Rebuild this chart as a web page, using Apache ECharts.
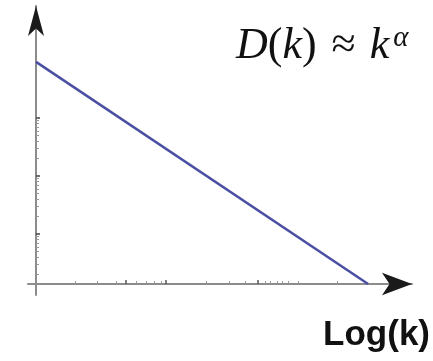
<!DOCTYPE html>
<html>
<head>
<meta charset="utf-8">
<script src="https://cdn.jsdelivr.net/npm/echarts@6/dist/echarts.min.js"></script>
<style>
  html, body { margin: 0; padding: 0; background: #ffffff; }
  #chart { width: 433px; height: 361px; }
</style>
</head>
<body>
<div id="chart"></div>
<script>
// Power law drawn on log-log axes: log10(k) against log10(D)
const logK = [0, 3.61];
const logD = [3.83, 0];

// Tick positions along each axis (in decades)
const xMajorTicks = [0.98, 1.41, 2.41];
const xMinorTicks = [0.43, 0.67, 0.87, 1.09, 1.20, 1.28, 1.36, 1.85, 2.10, 2.27, 2.49, 2.55, 2.62, 2.68, 2.74, 2.85, 3.27];
const yMajorTicks = [0.862, 1.862, 2.862];
const yMinorMultipliers = [2, 3, 4, 5, 6, 7, 8, 9];

const yMinorTicks = [];
yMajorTicks.forEach(function (m) {
  yMinorMultipliers.forEach(function (f) {
    yMinorTicks.push(m - 1 + Math.log10(f));
  });
});

const formula = '{i|D}{n|(}{i|k}{n|)}{rel|≈}{i|k}{s|α}';
const xName = 'Log(k)';

const xRange = [-0.087, 4.087];
const yRange = [-0.19, 4.793];

const axisGray = '#8c8c8c';
const arrowColor = '#1a1a1a';

const chart = echarts.init(document.getElementById('chart'), null, { renderer: 'canvas' });

chart.setOption({
  backgroundColor: '#ffffff',
  animation: false,
  grid: { left: 28, right: 21, top: 6, bottom: 66, containLabel: false },
  xAxis: [
    {
      type: 'value', position: 'bottom', min: xRange[0], max: xRange[1],
      axisLine: { onZero: true, lineStyle: { color: axisGray, width: 2 } },
      axisTick: { show: true, inside: true, length: 4, customValues: xMajorTicks, lineStyle: { color: '#555', width: 1.5 } },
      axisLabel: { show: false }, splitLine: { show: false },
      name: xName, nameLocation: 'end', nameGap: 18,
      nameTextStyle: {
        fontFamily: 'Liberation Sans', fontWeight: 'bold', fontSize: 35, color: '#111',
        align: 'right', verticalAlign: 'top', padding: [34, 0, 0, 0]
      }
    },
    {
      type: 'value', position: 'top', min: xRange[0], max: xRange[1],
      axisLine: { onZero: true, symbol: ['none', 'arrow'], symbolSize: [17, 30], lineStyle: { color: arrowColor, width: 0 } },
      axisTick: { show: true, inside: false, length: 3, customValues: xMinorTicks, lineStyle: { color: '#9a9a9a', width: 1 } },
      axisLabel: { show: false }, splitLine: { show: false }
    }
  ],
  yAxis: [
    {
      type: 'value', position: 'left', min: yRange[0], max: yRange[1],
      axisLine: { onZero: true, lineStyle: { color: axisGray, width: 2 } },
      axisTick: { show: true, inside: true, length: 4, customValues: yMajorTicks, lineStyle: { color: '#444', width: 1.5 } },
      axisLabel: { show: false }, splitLine: { show: false }
    },
    {
      type: 'value', position: 'right', min: yRange[0], max: yRange[1],
      axisLine: { onZero: true, symbol: ['none', 'arrow'], symbolSize: [12, 30], lineStyle: { color: arrowColor, width: 0 } },
      axisTick: { show: true, inside: false, length: 3, customValues: yMinorTicks, lineStyle: { color: '#9a9a9a', width: 1 } },
      axisLabel: { show: false }, splitLine: { show: false }
    }
  ],
  graphic: [
    {
      type: 'text', left: 236, top: 24, z: 10,
      style: {
        text: formula, fill: '#111',
        rich: {
          i: { fontFamily: 'Liberation Serif', fontStyle: 'italic', fontSize: 44, fill: '#111' },
          n: { fontFamily: 'Liberation Serif', fontSize: 44, fill: '#111' },
          rel: { fontFamily: 'Liberation Serif', fontSize: 44, fill: '#111', padding: [0, 14, 0, 15] },
          s: { fontFamily: 'Liberation Serif', fontStyle: 'italic', fontSize: 29, fill: '#111', verticalAlign: 'top', padding: [0, 0, 0, 4] }
        }
      }
    }
  ],
  series: [
    {
      type: 'line', xAxisIndex: 0, yAxisIndex: 0,
      data: logK.map(function (k, i) { return [k, logD[i]]; }),
      symbol: 'none', silent: true,
      lineStyle: { color: '#4a4fa3', width: 2.5 }
    }
  ]
});
</script>
</body>
</html>
